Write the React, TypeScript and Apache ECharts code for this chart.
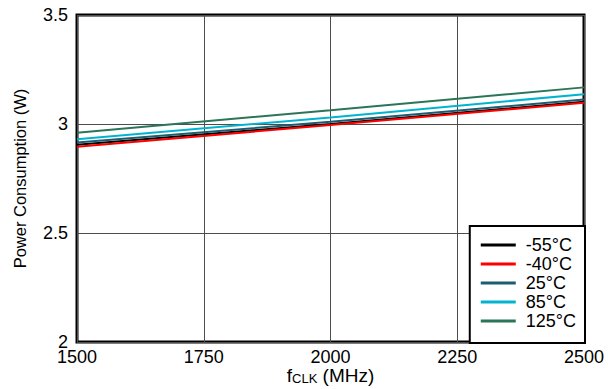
import React, { useEffect, useRef } from "react";
import * as echarts from "echarts";

const freq = [1500, 2000, 2500];
const seriesNames = ["-55°C", "-40°C", "25°C", "85°C", "125°C"];
const tM55 = [2.905, 3.0, 3.102];
const tM40 = [2.896, 2.995, 3.097];
const t25 = [2.915, 3.01, 3.112];
const t85 = [2.93, 3.03, 3.137];
const t125 = [2.96, 3.063, 3.168];
const seriesValues = [tM55, tM40, t25, t85, t125];
const colors = ["#000000", "#ff0000", "#1d5c70", "#00b4cf", "#2b7558"];

export default function App() {
  const ref = useRef<HTMLDivElement>(null);
  useEffect(() => {
    if (!ref.current) return;
    const chart = echarts.init(ref.current, undefined, { renderer: "svg" });
    const font = "'Liberation Sans', Arial, sans-serif";
    chart.setOption({
      animation: false,
      textStyle: { fontFamily: font },
      grid: {
        left: 77,
        right: 24,
        top: 15,
        bottom: 47,
        show: true,
        borderColor: "#000",
        borderWidth: 3,
        containLabel: false,
        outerBoundsMode: "none",
      },
      xAxis: {
        type: "value",
        min: 1500,
        max: 2500,
        interval: 250,
        axisLine: { show: false },
        axisTick: { show: false },
        splitLine: { show: true, lineStyle: { color: "#4d4d4d", width: 1 } },
        axisLabel: {
          color: "#000",
          fontSize: 18,
          lineHeight: 14,
          margin: 8,
          fontFamily: font,
          formatter: (v: number) => String(v),
        },
        name: "{f|f}{sub|CLK}{f| (MHz)}",
        nameLocation: "middle",
        nameGap: 23,
        nameMoveOverlap: false,
        nameTextStyle: {
          rich: {
            f: { fontSize: 19, lineHeight: 20, color: "#000", fontFamily: font },
            sub: { fontSize: 13, lineHeight: 20, color: "#000", fontFamily: font, padding: [6, 0, 0, 0] },
          },
        },
      },
      yAxis: {
        type: "value",
        min: 2,
        max: 3.5,
        interval: 0.5,
        axisLine: { show: false },
        axisTick: { show: false },
        splitLine: { show: true, lineStyle: { color: "#4d4d4d", width: 1 } },
        axisLabel: { color: "#000", fontSize: 18, lineHeight: 14, margin: 9, fontFamily: font },
        name: "Power Consumption (W)",
        nameLocation: "middle",
        nameGap: 49,
        nameTextStyle: { fontSize: 16.5, color: "#000", fontFamily: font },
      },
      legend: {
        orient: "vertical",
        right: 23,
        bottom: 46,
        backgroundColor: "#fff",
        borderColor: "#000",
        borderWidth: 2,
        borderRadius: 0,
        padding: [10, 9, 13, 11],
        icon: "rect",
        itemWidth: 35,
        itemHeight: 3,
        itemGap: 1,
        textStyle: {
          fontSize: 18,
          lineHeight: 18,
          color: "#000",
          fontFamily: font,
          padding: [0, 0, 0, 5],
        },
        data: seriesNames,
      },
      series: seriesValues.map((vals, i) => ({
        name: seriesNames[i],
        type: "line",
        symbol: "none",
        showSymbol: false,
        color: colors[i],
        lineStyle: { color: colors[i], width: 2 },
        data: freq.map((f, j) => [f, vals[j]]),
        z: 2 + i,
      })),
    });
    return () => chart.dispose();
  }, []);
  return (
    <div
      ref={ref}
      style={{ position: "fixed", left: 0, top: 0, width: 608, height: 389, background: "#fff" }}
    />
  );
}
